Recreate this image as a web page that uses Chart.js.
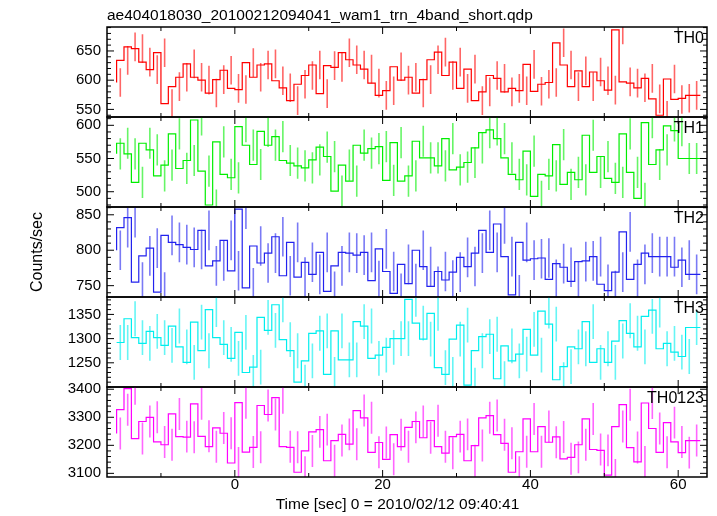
<!DOCTYPE html>
<html><head><meta charset="utf-8">
<script src="https://cdn.jsdelivr.net/npm/chart.js@4/dist/chart.umd.min.js"></script>
<style>
html,body{margin:0;padding:0;background:#fff;}
#wrap{position:relative;width:717px;height:516px;overflow:hidden;}
#wrap canvas{position:absolute;left:0;top:0;}
</style></head>
<body><div id="wrap">
<canvas id="c0" width="717" height="516"></canvas>
<canvas id="c1" width="717" height="516"></canvas>
<canvas id="c2" width="717" height="516"></canvas>
<canvas id="c3" width="717" height="516"></canvas>
<canvas id="c4" width="717" height="516"></canvas>
</div>
<script>
// ---------------- data ----------------
const TITLE = 'ae404018030_20100212094041_wam1_trn_4band_short.qdp';
const X_TITLE = 'Time [sec] 0 = 2010/02/12 09:40:41';
const Y_TITLE = 'Counts/sec';
const PANEL_NAMES = ['TH0', 'TH1', 'TH2', 'TH3', 'TH0123'];

const BIN_WIDTH = 1;
const TIME = [-15.5,-14.5,-13.5,-12.5,-11.5,-10.5,-9.5,-8.5,-7.5,-6.5,-5.5,-4.5,-3.5,-2.5,-1.5,-0.5,
  0.5,1.5,2.5,3.5,4.5,5.5,6.5,7.5,8.5,9.5,10.5,11.5,12.5,13.5,14.5,15.5,16.5,17.5,18.5,19.5,
  20.5,21.5,22.5,23.5,24.5,25.5,26.5,27.5,28.5,29.5,30.5,31.5,32.5,33.5,34.5,35.5,36.5,37.5,38.5,39.5,
  40.5,41.5,42.5,43.5,44.5,45.5,46.5,47.5,48.5,49.5,50.5,51.5,52.5,53.5,54.5,55.5,56.5,57.5,58.5,59.5,
  60.5,61.5,62.5];

const TH0 = [596,634,657,654,631,618,647,560,589,605,628,605,600,578,601,617,586,584,630,605,
  626,628,599,587,565,593,608,626,577,625,622,647,635,626,619,595,574,582,623,600,
  605,578,601,635,648,608,631,586,619,565,580,608,603,580,586,582,627,581,593,596,
  664,626,589,616,589,614,599,583,686,597,595,587,603,568,540,602,567,569,574];
const TH1 = [557,573,557,514,573,563,524,540,587,535,547,608,531,480,575,526,521,598,570,541,
  591,570,583,547,543,539,536,548,567,553,501,540,516,570,558,565,568,517,574,516,
  524,576,551,551,539,580,533,537,544,566,589,593,580,551,526,518,561,493,526,524,
  571,511,529,518,585,529,553,520,514,587,529,490,604,541,563,599,592,550,550];
const TH2 = [800,832,846,755,792,803,741,821,811,808,804,801,828,778,785,814,771,858,747,806,
  782,796,819,764,811,762,783,766,797,742,778,797,796,793,797,757,802,770,739,780,
  753,800,777,749,770,758,769,790,777,796,828,797,837,791,737,811,786,788,789,759,
  781,776,756,784,785,791,752,743,769,826,759,780,796,791,791,791,776,786,766];
const TH3 = [1292,1292,1341,1302,1290,1315,1302,1286,1326,1283,1251,1334,1275,1360,1302,1288,1259,1313,1230,1241,
  1344,1317,1370,1298,1275,1210,1254,1311,1316,1226,1316,1256,1256,1335,1326,1259,1266,1282,1300,1300,
  1381,1332,1299,1352,1240,1226,1299,1328,1204,1275,1304,1309,1217,1285,1254,1268,1319,1266,1357,1330,
  1215,1242,1283,1279,1335,1251,1279,1251,1295,1337,1311,1283,1346,1359,1279,1290,1272,1263,1323];
const TH0123 = [3242,3327,3402,3224,3285,3300,3212,3202,3312,3231,3229,3348,3232,3195,3262,3243,3137,3352,3176,3193,
  3342,3310,3370,3195,3193,3104,3180,3248,3256,3145,3217,3239,3204,3324,3298,3175,3210,3150,3238,3195,
  3264,3285,3227,3288,3195,3172,3231,3239,3145,3199,3298,3306,3238,3207,3104,3177,3294,3177,3267,3211,
  3230,3152,3157,3202,3294,3185,3182,3094,3267,3345,3192,3141,3351,3260,3175,3281,3212,3174,3217];

// typical 1-sigma error bar half-length read per panel
const ERRORS = [24.5, 23.5, 28, 36, 57];

const X_RANGE = [-17.3, 63.9];
const X_TICKS = [0, 20, 40, 60];
const X_MINOR_TICKS = [-10, 10, 30, 50];

const Y_MIN = [537, 477, 734, 1200, 3087];
const Y_MAX = [691, 612.5, 861, 1386, 3408];
const Y_TICKS = [[550,600,650],[500,550,600],[750,800,850],[1250,1300,1350],[3100,3200,3300,3400]];
const Y_MINOR_STEP = [10, 10, 10, 10, 20];

const COLORS = ['#ff0000', '#00ee00', '#2222ee', '#00eeee', '#ff00ff'];
const VALUES = [TH0, TH1, TH2, TH3, TH0123];

// ---------------- layout ----------------
const PANEL_TOP = [27, 117, 207, 297, 387];
const PANEL_H = 90;
const LEFT_W = 107, RIGHT_PAD = 10;
const FONT = '"Liberation Sans", Arial, Helvetica, sans-serif';

function makeChart(idx) {
  const vals = VALUES[idx];
  const color = COLORS[idx];
  const err = ERRORS[idx];
  const isFirst = idx === 0, isLast = idx === 4;
  const top = PANEL_TOP[idx];
  const bottom = top + PANEL_H;
  const pts = TIME.map((t, i) => ({x: t - BIN_WIDTH / 2, y: vals[i]}));
  pts.push({x: TIME[TIME.length - 1] + BIN_WIDTH / 2, y: vals[vals.length - 1]});

  const majors = Y_TICKS[idx];
  const step = Y_MINOR_STEP[idx];
  const minors = [];
  for (let v = Math.ceil(Y_MIN[idx] / step) * step; v <= Y_MAX[idx]; v += step) {
    if (!majors.includes(v)) minors.push(v);
  }

  const decor = {
    id: 'decor' + idx,
    beforeDatasetsDraw(chart) {
      const {ctx, chartArea: a, scales: {x, y}} = chart;
      ctx.save();
      ctx.beginPath();
      ctx.rect(a.left, a.top, a.right - a.left, a.bottom - a.top);
      ctx.clip();
      ctx.strokeStyle = color;
      ctx.globalAlpha = 0.6;
      ctx.lineWidth = 1.6;
      ctx.beginPath();
      vals.forEach((v, i) => {
        const px = x.getPixelForValue(TIME[i]);
        ctx.moveTo(px, y.getPixelForValue(v - err));
        ctx.lineTo(px, y.getPixelForValue(v + err));
      });
      ctx.stroke();
      ctx.restore();
    },
    afterDraw(chart) {
      const {ctx, chartArea: a, scales: {x, y}} = chart;
      ctx.save();
      ctx.strokeStyle = '#000';
      ctx.lineWidth = 1;
      ctx.beginPath();
      const yt = (v, len) => {
        const py = y.getPixelForValue(v);
        ctx.moveTo(a.left, py); ctx.lineTo(a.left + len, py);
        ctx.moveTo(a.right, py); ctx.lineTo(a.right - len, py);
      };
      majors.forEach(v => yt(v, 7));
      minors.forEach(v => yt(v, 4));
      const xt = (v, len) => {
        const px = x.getPixelForValue(v);
        ctx.moveTo(px, a.top); ctx.lineTo(px, a.top + len);
        ctx.moveTo(px, a.bottom); ctx.lineTo(px, a.bottom - len);
      };
      X_TICKS.forEach(v => xt(v, 7));
      X_MINOR_TICKS.forEach(v => xt(v, 4));
      ctx.stroke();
      ctx.lineWidth = 1.5;
      ctx.strokeRect(a.left, a.top, a.right - a.left, a.bottom - a.top);
      ctx.fillStyle = '#000';
      ctx.font = '16px ' + FONT;
      ctx.textAlign = 'right';
      ctx.textBaseline = 'alphabetic';
      ctx.fillText(PANEL_NAMES[idx], a.right - 3, a.top + 15.5);
      if (isLast) {
        ctx.font = '15.5px ' + FONT;
        ctx.textAlign = 'center';
        ctx.textBaseline = 'middle';
        ctx.fillText(X_TITLE, 397.5, 505);
      }
      ctx.restore();
    }
  };

  return new Chart(document.getElementById('c' + idx), {
    type: 'line',
    data: {
      datasets: [{
        label: PANEL_NAMES[idx],
        data: pts,
        stepped: 'after',
        borderColor: color,
        borderWidth: 1.2,
        pointRadius: 0,
        fill: false,
        tension: 0
      }]
    },
    options: {
      responsive: false,
      animation: false,
      devicePixelRatio: 1,
      events: [],
      layout: {padding: {top: isFirst ? 0 : top, bottom: isLast ? 0 : 516 - bottom, left: 0, right: RIGHT_PAD}},
      plugins: {
        legend: {display: false},
        tooltip: {enabled: false},
        title: {
          display: isFirst,
          text: TITLE,
          align: 'start',
          fullSize: false,
          color: '#000',
          font: {family: FONT, size: 15.5, weight: 'normal', lineHeight: 1.2},
          padding: {top: 6, bottom: 27 - 6 - 15.5 * 1.2}
        }
      },
      scales: {
        x: {
          type: 'linear',
          display: isLast,
          min: X_RANGE[0], max: X_RANGE[1],
          grid: {display: false, drawTicks: false},
          border: {display: false},
          ticks: {color: '#000', padding: 0, font: {family: FONT, size: 15, lineHeight: 1}, maxRotation: 0, autoSkip: false,
                  callback: v => String(v)},
          afterBuildTicks: s => { s.ticks = X_TICKS.map(v => ({value: v})); },
          afterFit: s => { s.height = isLast ? 516 - bottom : 0; }
        },
        y: {
          type: 'linear',
          position: 'left',
          min: Y_MIN[idx], max: Y_MAX[idx],
          grid: {display: false, drawTicks: false},
          border: {display: false},
          ticks: {color: '#000', padding: 6, font: {family: FONT, size: 15, lineHeight: 1},
                  callback: v => String(v)},
          afterBuildTicks: s => { s.ticks = majors.map(v => ({value: v})); },
          afterFit: s => { s.width = LEFT_W; },
          title: {
            display: idx === 2,
            text: Y_TITLE,
            color: '#000',
            font: {family: FONT, size: 16, lineHeight: 1.2},
            padding: {top: 28, bottom: 0}
          }
        }
      }
    },
    plugins: [decor]
  });
}

for (let i = 0; i < 5; i++) makeChart(i);
</script>
</body></html>
